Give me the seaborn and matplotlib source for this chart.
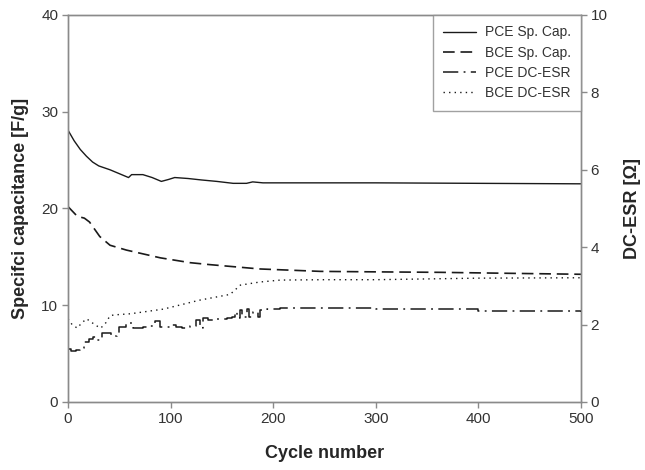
import matplotlib
matplotlib.use("Agg")
import matplotlib.pyplot as plt
import pandas as pd
import seaborn as sns

# Specific capacitance (left axis, F/g)
pce_cap_cycle = [0, 6, 12, 18, 24, 30, 41, 50, 59, 62, 73, 82, 91, 98, 104, 117, 130, 145,
                 161, 174, 180, 190, 250, 300, 400, 500]
pce_cap = [28.1, 27.0, 26.1, 25.4, 24.8, 24.4, 24.0, 23.6, 23.2, 23.5, 23.5, 23.2, 22.8,
           23.0, 23.2, 23.1, 22.95, 22.8, 22.6, 22.6, 22.75, 22.65, 22.65, 22.65, 22.6, 22.55]

bce_cap_cycle = [0, 9, 16, 21, 31, 41, 57, 90, 119, 138, 187, 246, 300, 363, 430, 500]
bce_cap = [20.2, 19.2, 19.0, 18.6, 17.1, 16.2, 15.7, 14.9, 14.4, 14.2, 13.75, 13.5, 13.45,
           13.4, 13.3, 13.2]

# DC-ESR (right axis, ohm)
pce_esr_cycle = [0, 3, 8, 12, 16, 20, 24, 28, 33, 38, 42, 48, 50, 57, 60, 63, 73, 80, 85,
                 90, 99, 105, 111, 119, 125, 129, 132, 136, 145, 150, 155, 160, 163, 165,
                 168, 170, 174, 176, 180, 185, 187, 194, 207, 250, 300, 400, 500]
pce_esr = [1.38, 1.33, 1.35, 1.40, 1.55, 1.63, 1.68, 1.60, 1.78, 1.78, 1.70, 1.78, 1.95,
           2.03, 2.05, 1.91, 1.94, 1.96, 2.08, 1.94, 2.00, 1.95, 1.91, 1.96, 2.13, 1.91,
           2.18, 2.13, 2.15, 2.14, 2.17, 2.20, 2.33, 2.18, 2.38, 2.20, 2.40, 2.20, 2.33,
           2.20, 2.38, 2.40, 2.42, 2.43, 2.40, 2.35, 2.33]

bce_esr_cycle = [0, 4, 9, 13, 18, 22, 27, 32, 37, 41, 45, 61, 93, 128, 158, 168, 187, 207,
                 250, 300, 400, 500]
bce_esr = [2.15, 2.00, 1.91, 2.03, 2.15, 2.08, 1.98, 1.91, 2.05, 2.23, 2.25, 2.28, 2.40,
           2.63, 2.78, 3.02, 3.10, 3.15, 3.16, 3.16, 3.20, 3.21]

labels = ["PCE Sp. Cap.", "BCE Sp. Cap.", "PCE DC-ESR", "BCE DC-ESR"]
x_ticks = [0, 100, 200, 300, 400, 500]
left_ticks = [0, 10, 20, 30, 40]
right_ticks = [0, 2, 4, 6, 8, 10]

sns.set_style("white")
plt.rcParams["font.family"] = ["Liberation Sans", "DejaVu Sans"]

line_col = "#1a1a1a"
spine_col = "#8a8a8a"
tick_col = "#333333"

fig = plt.figure(figsize=(6.45, 4.70), dpi=100)
ax = fig.add_axes([0.1054, 0.1447, 0.7954, 0.8234])
ax2 = ax.twinx()

df_pc = pd.DataFrame({"cycle": pce_cap_cycle, "val": pce_cap})
df_bc = pd.DataFrame({"cycle": bce_cap_cycle, "val": bce_cap})
df_pe = pd.DataFrame({"cycle": pce_esr_cycle, "val": pce_esr})
df_be = pd.DataFrame({"cycle": bce_esr_cycle, "val": bce_esr})

sns.lineplot(data=df_pc, x="cycle", y="val", ax=ax, color=line_col, lw=1.0,
             estimator=None, sort=False, label=labels[0], legend=False)
sns.lineplot(data=df_bc, x="cycle", y="val", ax=ax, color=line_col, lw=1.2,
             estimator=None, sort=False, label=labels[1], legend=False,
             linestyle=(0, (7, 3.5)))
sns.lineplot(data=df_pe, x="cycle", y="val", ax=ax2, color=line_col, lw=1.1,
             estimator=None, sort=False, label=labels[2], legend=False,
             linestyle=(0, (10, 3.5, 1.2, 3.5)), drawstyle="steps-post")
sns.lineplot(data=df_be, x="cycle", y="val", ax=ax2, color=line_col, lw=1.0,
             estimator=None, sort=False, label=labels[3], legend=False,
             linestyle=(0, (1, 3)))

ax.set_xlim(0, 500)
ax.set_ylim(0, 40)
ax2.set_ylim(0, 10)
ax.set_xticks(x_ticks)
ax.set_yticks(left_ticks)
ax2.set_yticks(right_ticks)

for a in (ax, ax2):
    for s in a.spines.values():
        s.set_color(spine_col)
        s.set_linewidth(1.0)
    a.tick_params(direction="out", length=4, width=1.0, color=spine_col,
                  labelsize=11, labelcolor=tick_col, pad=3)
ax.tick_params(axis="y", left=True, right=False)
ax.tick_params(axis="x", bottom=True)
ax2.tick_params(axis="y", right=True, left=False)

ax.set_xlabel("Cycle number", fontsize=13, fontweight="bold", labelpad=14)
ax.set_ylabel("Specifci capacitance [F/g]", fontsize=13, fontweight="bold", labelpad=9)
ax2.set_ylabel("DC-ESR [Ω]", fontsize=13, fontweight="bold", labelpad=12)

handles = ax.get_lines() + ax2.get_lines()
leg = ax2.legend(handles=handles, labels=labels, loc="upper right",
                 bbox_to_anchor=(1.0, 1.0), borderaxespad=0, fontsize=10,
                 frameon=True, fancybox=False, handlelength=2.4, handletextpad=0.6,
                 labelspacing=0.45, borderpad=0.75, labelcolor=tick_col)
leg.get_frame().set_edgecolor(spine_col)
leg.get_frame().set_linewidth(1.0)

fig.savefig("out.png", dpi=100)
